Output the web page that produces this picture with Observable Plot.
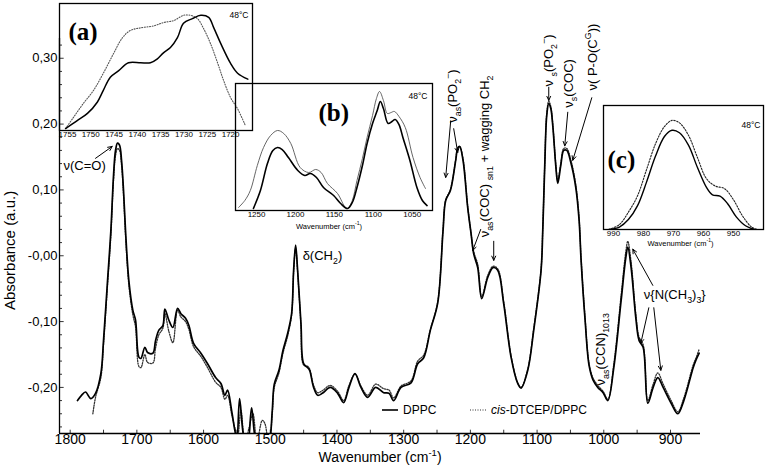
<!DOCTYPE html>
<html><head><meta charset="utf-8">
<script src="https://cdn.jsdelivr.net/npm/d3@7"></script>
<script src="https://cdn.jsdelivr.net/npm/@observablehq/plot@0.6"></script>
<style>
body{margin:0;background:#fff;}
#chart{position:relative;width:767px;height:470px;font-family:"Liberation Sans",Arial,sans-serif;overflow:hidden;}
#chart svg{position:absolute;overflow:visible;}
.leg{position:absolute;font-size:12px;line-height:12px;white-space:nowrap;color:#000;}
</style></head><body><div id="chart"></div>
<script>
// ---------- DATA ----------
// main spectrum, DPPC (solid)
const dppcWn = [1789,1783,1777,1769,1762,1754,1750,1744,1739,1735,1732,1729,1726,1723,1720,1717,1712,1706,1702,1697,1694,1688,1684,1676,1672,1667,1661,1658,1652,1646,1639,1634,1627,1622,1615,1604,1594,1582,1574,1568,1564,1558,1553,1550,1546,1540,1534,1528,1522,1514,1507,1501,1497,1494,1487,1481,1474,1468,1465,1462,1459,1454,1450,1444,1441,1435,1429,1422,1410,1399,1390,1382,1373,1364,1354,1342,1330,1322,1315,1304,1289,1279,1270,1260,1249,1241,1237,1230,1222,1219,1216,1211,1204,1199,1195,1189,1183,1174,1166,1159,1150,1139,1129,1124,1114,1105,1094,1091.5,1088.5,1085.5,1082.5,1079.5,1076.5,1072,1069,1064.5,1060,1055.5,1049.5,1042,1037,1034,1028,1022,1016,1009,1001,994,985,974,967,964,959,952,947,941,934,926,919,911,899,889,880,866,862,857];
const dppcAbs = [-0.220,-0.212,-0.207,-0.217,-0.209,-0.179,-0.129,-0.038,0.038,0.122,0.160,0.171,0.168,0.145,0.099,0.038,-0.038,-0.083,-0.098,-0.154,-0.156,-0.139,-0.147,-0.148,-0.129,-0.113,-0.106,-0.081,-0.098,-0.109,-0.080,-0.088,-0.095,-0.106,-0.133,-0.148,-0.164,-0.185,-0.194,-0.212,-0.204,-0.235,-0.266,-0.280,-0.217,-0.273,-0.288,-0.231,-0.280,-0.296,-0.293,-0.280,-0.235,-0.195,-0.174,-0.144,-0.118,-0.088,-0.022,0.016,-0.022,-0.103,-0.164,-0.170,-0.174,-0.200,-0.212,-0.209,-0.200,-0.209,-0.223,-0.200,-0.179,-0.200,-0.215,-0.200,-0.208,-0.209,-0.220,-0.200,-0.193,-0.164,-0.155,-0.113,-0.072,0.038,0.084,0.099,0.145,0.163,0.166,0.145,0.073,0.034,0.003,-0.018,-0.065,-0.033,-0.018,-0.022,-0.073,-0.154,-0.194,-0.201,-0.174,-0.113,-0.022,0.038,0.137,0.213,0.231,0.224,0.198,0.137,0.110,0.137,0.160,0.160,0.142,0.104,0.054,-0.007,-0.098,-0.167,-0.189,-0.200,-0.208,-0.220,-0.170,-0.068,-0.003,0.013,-0.018,-0.094,-0.129,-0.139,-0.224,-0.200,-0.185,-0.200,-0.224,-0.240,-0.220,-0.170,-0.159,-0.148];
// main spectrum, cis-DTCEP/DPPC (dotted)
const cisWn = [1766,1762,1754,1750,1744,1739,1735,1732,1729,1726,1723,1720,1717,1712,1706,1702,1697,1694,1688,1684,1676,1672,1667,1661,1658,1652,1646,1639,1634,1627,1622,1615,1604,1594,1582,1574,1568,1564,1558,1553,1549,1544,1538,1532,1526,1520,1512,1508,1502,1497,1494,1487,1481,1474,1468,1465,1462,1459,1454,1450,1444,1441,1435,1429,1422,1410,1399,1390,1382,1373,1364,1354,1342,1330,1322,1315,1304,1289,1279,1270,1260,1249,1241,1237,1230,1222,1219,1216,1211,1204,1199,1195,1189,1183,1174,1166,1159,1150,1139,1129,1124,1114,1105,1094,1091.5,1088.5,1085.5,1082.5,1079.5,1076.5,1072,1069,1064.5,1060,1055.5,1049.5,1042,1037,1034,1028,1022,1016,1009,1001,994,985,974,967,964,959,952,947,941,934,926,919,911,899,889,880,866,862,857];
const cisAbs = [-0.240,-0.215,-0.185,-0.135,-0.045,0.030,0.115,0.152,0.163,0.160,0.138,0.092,0.030,-0.045,-0.090,-0.108,-0.168,-0.170,-0.150,-0.162,-0.163,-0.140,-0.120,-0.110,-0.088,-0.115,-0.132,-0.083,-0.093,-0.100,-0.112,-0.138,-0.153,-0.170,-0.192,-0.200,-0.218,-0.212,-0.240,-0.262,-0.275,-0.235,-0.285,-0.262,-0.240,-0.282,-0.250,-0.255,-0.292,-0.240,-0.200,-0.178,-0.148,-0.122,-0.090,-0.025,0.012,-0.025,-0.105,-0.166,-0.168,-0.172,-0.197,-0.208,-0.205,-0.197,-0.206,-0.220,-0.197,-0.180,-0.198,-0.212,-0.195,-0.202,-0.204,-0.216,-0.198,-0.190,-0.160,-0.151,-0.112,-0.070,0.040,0.085,0.100,0.146,0.164,0.166,0.147,0.075,0.034,0.006,-0.013,-0.062,-0.030,-0.016,-0.020,-0.070,-0.152,-0.193,-0.200,-0.172,-0.110,-0.020,0.040,0.138,0.216,0.235,0.227,0.200,0.140,0.114,0.140,0.163,0.163,0.146,0.108,0.057,-0.004,-0.095,-0.164,-0.186,-0.197,-0.206,-0.218,-0.165,-0.060,0.006,0.022,-0.010,-0.088,-0.124,-0.135,-0.220,-0.195,-0.178,-0.195,-0.220,-0.237,-0.216,-0.166,-0.156,-0.142];

// inset (a): C=O region
const aDppcWn = [1755.4,1752.9,1750.7,1748.6,1747.3,1745.8,1744.0,1741.9,1739.3,1737.2,1735.7,1734.4,1732.9,1731.4,1730.1,1728.2,1726.4,1724.7,1723.6,1722.1,1720.0,1718.5,1716.3];
const aDppcAbs = [0.192,0.204,0.215,0.232,0.250,0.270,0.280,0.292,0.292,0.292,0.298,0.307,0.315,0.330,0.352,0.359,0.364,0.361,0.345,0.321,0.291,0.276,0.267];
const aCisWn = [1755.4,1753.7,1751.6,1749.4,1747.3,1745.1,1743.2,1741.5,1739.3,1736.5,1734.4,1732.2,1730.1,1728.6,1727.1,1725.8,1724.3,1722.8,1721.5,1720.0,1718.5,1716.8];
const aCisAbs = [0.192,0.209,0.230,0.250,0.276,0.306,0.330,0.341,0.345,0.348,0.353,0.356,0.364,0.364,0.359,0.344,0.321,0.292,0.265,0.239,0.222,0.196];

// inset (b): phosphate region (relative absorbance)
const bDppcWn = [1254,1245,1236,1229,1223,1217,1209,1197,1188,1181,1173,1164,1151,1142,1133,1127,1121,1114,1108,1101,1095,1091,1087,1081,1076,1072,1067,1062,1053,1044,1037,1031];
const bDppcAbs = [0.016,0.157,0.370,0.472,0.496,0.480,0.417,0.315,0.276,0.291,0.260,0.181,0.118,0.055,0.016,0.063,0.181,0.354,0.528,0.685,0.787,0.858,0.803,0.685,0.701,0.717,0.677,0.575,0.394,0.181,0.079,0.039];
const bCisWn = [1273,1265,1258,1249,1241,1232,1223,1215,1206,1194,1183,1174,1167,1159,1146,1136,1133,1127,1121,1114,1108,1101,1096,1092,1087,1082,1077,1073,1067,1059,1049,1040,1033];
const bCisAbs = [0.024,0.079,0.157,0.354,0.496,0.590,0.630,0.606,0.528,0.339,0.299,0.323,0.299,0.213,0.134,0.024,0.016,0.079,0.236,0.409,0.575,0.748,0.882,0.937,0.866,0.764,0.772,0.780,0.740,0.654,0.417,0.260,0.173];

// inset (c): choline region (relative absorbance)
const cDppcWn = [991.5,988,985,982,979,976,973,970.5,968,965,962,959,957,954.5,952,949,946,943];
const cDppcAbs = [0.0,0.02,0.08,0.19,0.38,0.59,0.75,0.80,0.78,0.68,0.50,0.34,0.28,0.27,0.21,0.10,0.03,0.0];
const cCisWn = [991.5,988,985,982,979,976,973,970.5,968,965,962,959,956,953,950,947,944,942];
const cCisAbs = [0.0,0.04,0.14,0.27,0.48,0.69,0.83,0.88,0.86,0.76,0.58,0.41,0.35,0.33,0.24,0.11,0.02,0.0];

// tick labels
const xTicksMain = [1800,1700,1600,1500,1400,1300,1200,1100,1000,900];
const yTicksMain = [0.30,0.20,0.10,0.00,-0.10,-0.20];
const aTicks = [1755,1750,1745,1740,1735,1730,1725,1720];
const bTicks = [1250,1200,1150,1100,1050];
const cTicks = [990,980,970,960,950];
const seriesNames = ["DPPC", "cis-DTCEP/DPPC"];

// ---------- DRAW ----------
const FONT = '"Liberation Sans", Arial, sans-serif';
const SERIF = '"Liberation Serif", "Times New Roman", serif';
const pts = (ws, vs) => ws.map((w, i) => ({w, v: vs[i]}));
const yFmt = d => (d <= 0 ? "-" : "") + Math.abs(d).toFixed(2).replace(".", ",");
const chart = document.getElementById("chart");

const arrows = [
  {x1:1762, y1:0.148, x2:1737, y2:0.166},
  {x1:1229.5, y1:0.205, x2:1237, y2:0.119},
  {x1:1225, y1:0.193, x2:1219, y2:0.157},
  {x1:1184.5, y1:0.040, x2:1196.5, y2:0.008},
  {x1:1165, y1:0.022, x2:1165, y2:-0.007},
  {x1:1082.5, y1:0.256, x2:1082.5, y2:0.236},
  {x1:1054, y1:0.218, x2:1058.5, y2:0.167},
  {x1:1018, y1:0.240, x2:1046.5, y2:0.145},
  {x1:926.5, y1:-0.045, x2:956.5, y2:0.010},
  {x1:932.5, y1:-0.079, x2:944.5, y2:-0.133},
  {x1:925, y1:-0.079, x2:914.5, y2:-0.174}
];
const labels = [
  {t:"ν(C=O)", x:1810, y:0.137},
  {t:"δ(CH_{2})", x:1451.5, y:0.0},
  {t:"ν{N(CH_{3})_{3}}", x:940, y:-0.06}
];
const rlabels = [
  {t:"ν_{as}(PO_{2}^{−})", x:1226.5, y:0.202},
  {t:"ν_{as}(COC) _{sn1} + wagging CH_{2}", x:1178.5, y:0.028},
  {t:"ν _{s}(PO_{2}^{−})", x:1082.5, y:0.257},
  {t:"ν_{s}(COC)", x:1052.5, y:0.225},
  {t:"ν( P-O(C^{G}))", x:1016.5, y:0.251},
  {t:"ν_{as}(CCN)_{1013}", x:1004.5, y:-0.197}
];
const yMinor = d3.range(-26, 33, 2).map(d => d / 100).filter(d => Math.abs(Math.round(d * 100) % 10) !== 0);
const xMinor = d3.range(1800, 850, -50);

const main = Plot.plot({
  width: 767, height: 470,
  marginLeft: 59, marginRight: 67, marginTop: 38, marginBottom: 37,
  x: {domain: [1816, 855], label: null},
  y: {domain: [-0.27, 0.33], label: null},
  style: {fontFamily: FONT, fontSize: "13px", background: "transparent", overflow: "visible", color: "#000"},
  marks: [
    Plot.axisY({ticks: yTicksMain, tickSize: 0, tickPadding: 2, tickFormat: yFmt, label: null, fontSize: 13}),
    Plot.axisX({ticks: xTicksMain, tickSize: 0, tickPadding: 1, tickFormat: d => String(d), label: null, fontSize: 14}),
    Plot.ruleY(yMinor, {y: d => d, x1: 1816, x2: 1811.5, stroke: "#000", strokeWidth: 0.8}),
    Plot.ruleY(yTicksMain, {y: d => d, x1: 1816, x2: 1809, stroke: "#000", strokeWidth: 0.8}),
    Plot.ruleX(xMinor, {x: d => d, y1: -0.27, y2: -0.265, stroke: "#000", strokeWidth: 0.8}),
    Plot.ruleX([1816], {y1: -0.27, y2: 0.33, stroke: "#000", strokeWidth: 1.3}),
    Plot.ruleY([-0.27], {x1: 1816, x2: 855, stroke: "#000", strokeWidth: 1.3}),
    Plot.line(pts(cisWn, cisAbs), {x: "w", y: "v", stroke: "#333", strokeWidth: 1.3, strokeDasharray: "1.2,1.4", curve: "catmull-rom", clip: true}),
    Plot.line(pts(dppcWn, dppcAbs), {x: "w", y: "v", stroke: "#000", strokeWidth: 1.7, curve: "catmull-rom", clip: true}),
    Plot.arrow(arrows, {x1: "x1", y1: "y1", x2: "x2", y2: "y2", stroke: "#000", strokeWidth: 1, headLength: 7, headAngle: 50}),
    Plot.text(labels, {x: "x", y: "y", text: "t", textAnchor: "start", fontSize: 13}),
    Plot.text(rlabels, {x: "x", y: "y", text: "t", textAnchor: "start", rotate: -90, fontSize: 13}),
    Plot.text(["Wavenumber (cm^{-1})"], {frameAnchor: "bottom", dy: 28, text: d => d, fontSize: 14}),
    Plot.text(["Absorbance (a.u.)"], {x: () => 1816, y: () => 0.008, dx: -49, rotate: -90, text: d => d, fontSize: 15})
  ]
});
main.style.left = "0px"; main.style.top = "0px";
chart.appendChild(main);

function inset(opts) {
  const {left, top, w, h, xd, yd, ticks, series, tag, tagPos, temp, tempPos, xlab} = opts;
  const mb = 26;
  const marks = [
    Plot.frame({stroke: "#000", strokeWidth: 1.3}),
    Plot.axisX({ticks, tickSize: 0, tickPadding: 1, tickFormat: d => String(d), label: null, fontSize: 8})
  ];
  series.forEach(s => marks.push(Plot.line(s.data, {x: "w", y: "v", curve: "catmull-rom", clip: true, ...s.style})));
  marks.push(Plot.text([tag], {frameAnchor: "top-left", dx: tagPos[0], dy: tagPos[1], text: d => d, textAnchor: "start", fontFamily: SERIF, fontWeight: "bold", fontSize: 25}));
  marks.push(Plot.text([temp], {frameAnchor: "top-right", dx: tempPos[0], dy: tempPos[1], text: d => d, textAnchor: "end", fontSize: 8.5}));
  if (xlab) marks.push(Plot.text([xlab.t], {frameAnchor: "bottom", dx: xlab.dx, dy: xlab.dy, text: d => d, fontSize: 7.5}));
  const p = Plot.plot({
    width: w, height: h + mb, marginLeft: 0, marginRight: 0, marginTop: 0, marginBottom: mb,
    x: {domain: xd, label: null}, y: {domain: yd, axis: null, label: null},
    style: {fontFamily: FONT, background: "transparent", overflow: "visible", color: "#000"},
    marks
  });
  p.style.left = left + "px"; p.style.top = top + "px";
  chart.appendChild(p);
}

inset({left: 59, top: 3, w: 193, h: 127, xd: [1756.7, 1715.3], yd: [0.189, 0.382], ticks: aTicks,
  series: [
    {data: pts(aCisWn, aCisAbs), style: {stroke: "#555", strokeWidth: 1.1, strokeDasharray: "1,1.6"}},
    {data: pts(aDppcWn, aDppcAbs), style: {stroke: "#000", strokeWidth: 1.5}}
  ], tag: "(a)", tagPos: [9, 19], temp: "48°C", tempPos: [-4, 8]});

inset({left: 235, top: 83, w: 197, h: 127, xd: [1277, 1024], yd: [0, 1], ticks: bTicks,
  series: [
    {data: pts(bCisWn, bCisAbs), style: {stroke: "#555", strokeWidth: 0.9}},
    {data: pts(bDppcWn, bDppcAbs), style: {stroke: "#000", strokeWidth: 1.6}}
  ], tag: "(b)", tagPos: [83, 20], temp: "48°C", tempPos: [-5, 9],
  xlab: {t: "Wavenumber (cm^{-1})", dx: -5, dy: 18}});

inset({left: 603, top: 105, w: 160, h: 124, xd: [993.3, 940], yd: [0, 1], ticks: cTicks,
  series: [
    {data: pts(cCisWn, cCisAbs), style: {stroke: "#222", strokeWidth: 1.1, strokeDasharray: "1.5,1.5"}},
    {data: pts(cDppcWn, cDppcAbs), style: {stroke: "#000", strokeWidth: 1.4}}
  ], tag: "(c)", tagPos: [4, 45], temp: "48°C", tempPos: [-3, 16],
  xlab: {t: "Wavenumber (cm^{-1})", dx: -3, dy: 16}});

// legend
function legendItem(left, top, dashed, name) {
  const d = document.createElement("div");
  d.className = "leg";
  d.style.left = left + "px"; d.style.top = top + "px";
  const dash = dashed ? 'stroke-dasharray="1,1.5" stroke="#333" stroke-width="1.2"' : 'stroke="#000" stroke-width="1.6"';
  const html = name.replace(/^cis/, "<i>cis</i>");
  d.innerHTML = `<svg width="18" height="12" style="position:static;vertical-align:middle;overflow:visible"><line x1="0" x2="16" y1="6" y2="6" ${dash}/></svg><span style="margin-left:3px;vertical-align:middle">${html}</span>`;
  chart.appendChild(d);
}
legendItem(382, 403, false, seriesNames[0]);
legendItem(470, 403, true, seriesNames[1]);

// rich text: _{sub} and ^{sup}
function richify(root) {
  root.querySelectorAll("text").forEach(t => {
    const s = t.textContent;
    if (!/[_^]\{/.test(s)) return;
    const fs = parseFloat(getComputedStyle(t).fontSize) || 13;
    while (t.firstChild) t.removeChild(t.firstChild);
    const re = /([_^])\{([^}]*)\}/g;
    let last = 0, m, shift = 0;
    const add = (str, kind) => {
      const ts = document.createElementNS("http://www.w3.org/2000/svg", "tspan");
      const target = kind === "_" ? 0.3 * fs : kind === "^" ? -0.42 * fs : 0;
      ts.setAttribute("dy", (target - shift).toFixed(2)); shift = target;
      if (kind) ts.setAttribute("font-size", (0.68 * fs).toFixed(2));
      ts.textContent = str; t.appendChild(ts);
    };
    while ((m = re.exec(s))) { if (m.index > last) add(s.slice(last, m.index), null); add(m[2], m[1]); last = re.lastIndex; }
    if (last < s.length) add(s.slice(last), null);
  });
}
richify(chart);
</script></body></html>
